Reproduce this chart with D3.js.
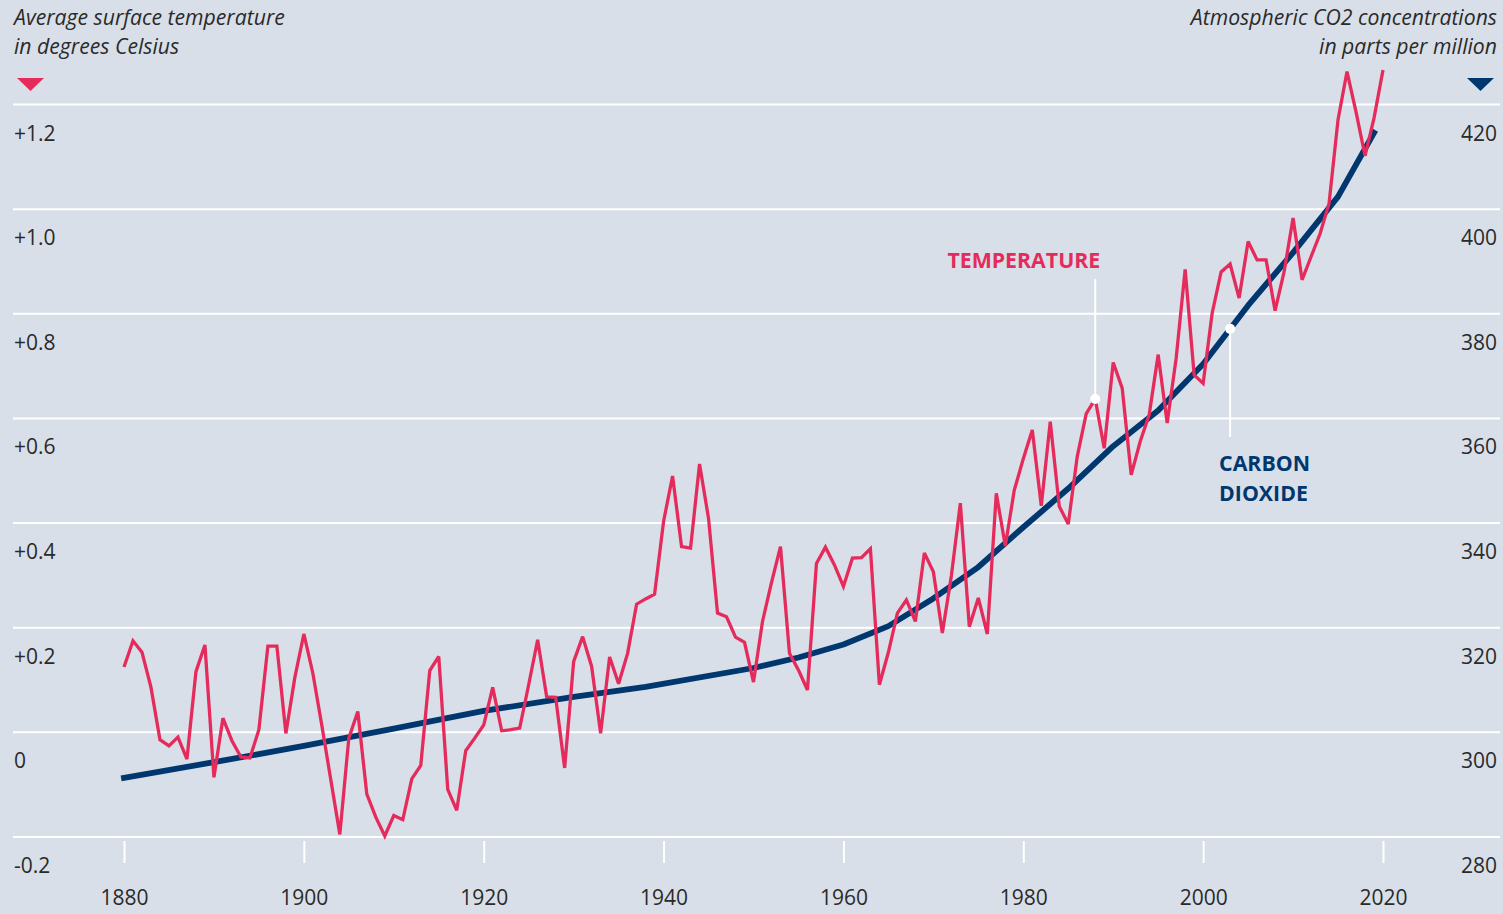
<!DOCTYPE html>
<html>
<head>
<meta charset="utf-8">
<script src="https://cdn.jsdelivr.net/npm/d3@7"></script>
<style>
  html, body { margin: 0; padding: 0; background: #d9dfe8; }
  svg { display: block; font-family: "Open Sans", "Noto Sans", sans-serif; }
</style>
</head>
<body>
<svg id="chart" width="1503" height="914"></svg>
<script>
// ---------- DATA ----------
const tempYears = [
  1880,1881,1882,1883,1884,1885,1886,1887,1888,1889,
  1890,1891,1892,1893,1894,1895,1896,1897,1898,1899,
  1900,1901,1902,1903,1904,1905,1906,1907,1908,1909,
  1910,1911,1912,1913,1914,1915,1916,1917,1918,1919,
  1920,1921,1922,1923,1924,1925,1926,1927,1928,1929,
  1930,1931,1932,1933,1934,1935,1936,1937,1938,1939,
  1940,1941,1942,1943,1944,1945,1946,1947,1948,1949,
  1950,1951,1952,1953,1954,1955,1956,1957,1958,1959,
  1960,1961,1962,1963,1964,1965,1966,1967,1968,1969,
  1970,1971,1972,1973,1974,1975,1976,1977,1978,1979,
  1980,1981,1982,1983,1984,1985,1986,1987,1988,1989,
  1990,1991,1992,1993,1994,1995,1996,1997,1998,1999,
  2000,2001,2002,2003,2004,2005,2006,2007,2008,2009,
  2010,2011,2012,2013,2014,2015,2016,2017,2018,2019,
  2020
];
const tempValues = [
  0.125,0.175,0.153,0.086,-0.014,-0.026,-0.009,-0.051,0.116,0.167,
  -0.086,0.027,-0.016,-0.047,-0.049,0.005,0.165,0.165,-0.002,0.105,
  0.188,0.113,0.013,-0.091,-0.195,-0.011,0.040,-0.118,-0.162,-0.198,
  -0.159,-0.167,-0.089,-0.063,0.118,0.145,-0.109,-0.149,-0.035,-0.011,
  0.014,0.086,0.003,0.005,0.008,0.091,0.177,0.068,0.067,-0.068,
  0.135,0.183,0.126,-0.002,0.144,0.093,0.151,0.245,0.255,0.264,
  0.403,0.490,0.355,0.352,0.513,0.409,0.228,0.221,0.182,0.172,
  0.096,0.212,0.286,0.355,0.151,0.119,0.081,0.323,0.354,0.320,
  0.279,0.333,0.334,0.351,0.091,0.153,0.228,0.253,0.212,0.343,
  0.307,0.190,0.299,0.438,0.202,0.257,0.188,0.457,0.356,0.463,
  0.523,0.578,0.433,0.594,0.432,0.398,0.527,0.609,0.637,0.543,
  0.707,0.658,0.492,0.556,0.607,0.722,0.591,0.715,0.885,0.683,
  0.667,0.801,0.880,0.895,0.830,0.938,0.903,0.903,0.806,0.880,
  0.983,0.865,0.909,0.953,1.011,1.171,1.263,1.186,1.102,1.174,
  1.266
];
const co2Years  = [1880,1890,1900,1910,1920,1930,1938,1950,1955,1960,1965,1970,1975,1980,1985,1990,1995,2000,2005,2010,2015,2019];
const co2Values = [291.3,294.3,297.4,300.7,304.1,306.8,308.7,312.3,314.3,316.8,320.3,325.6,331.6,339.2,346.6,354.7,361.5,370.4,381.6,391.7,402.4,414.6];

const tempTicks  = [-0.2, 0, 0.2, 0.4, 0.6, 0.8, 1.0, 1.2];
const tempLabels = ["-0.2", "0", "+0.2", "+0.4", "+0.6", "+0.8", "+1.0", "+1.2"];
const co2Ticks   = [280, 300, 320, 340, 360, 380, 400, 420];
const yearTicks  = [1880, 1900, 1920, 1940, 1960, 1980, 2000, 2020];

const leftTitle  = ["Average surface temperature", "in degrees Celsius"];
const rightTitle = ["Atmospheric CO2 concentrations", "in parts per million"];
const tempLabel  = "TEMPERATURE";
const co2Label   = ["CARBON", "DIOXIDE"];
const tempCalloutYear = 1988;
const co2CalloutYear  = 2003;

// ---------- STYLE ----------
const COL_TEMP = "#e52b5c";
const COL_CO2  = "#00376f";
const COL_TEXT = "#2a2a2a";
const FS = 21;

const svg = d3.select("#chart");

const x  = d3.scaleLinear().domain([1880, 2020]).range([124, 1383]);
const yT = d3.scaleLinear().domain([-0.2, 1.2]).range([837, 104.5]);
const yC = d3.scaleLinear().domain([280, 420]).range([837, 104.5]);

// gridlines
svg.append("g").selectAll("line").data(tempTicks).join("line")
  .attr("x1", 13).attr("x2", 1500)
  .attr("y1", d => yT(d)).attr("y2", d => yT(d))
  .attr("stroke", "#ffffff").attr("stroke-width", 2);

// left labels (below gridline)
svg.append("g").selectAll("text").data(tempTicks).join("text")
  .attr("x", 14).attr("y", d => yT(d) + 36)
  .attr("font-size", FS).attr("fill", COL_TEXT)
  .text((d, i) => tempLabels[i]);

// right labels
svg.append("g").selectAll("text").data(co2Ticks).join("text")
  .attr("x", 1497).attr("y", d => yC(d) + 36)
  .attr("text-anchor", "end")
  .attr("font-size", FS).attr("fill", COL_TEXT)
  .text(d => d);

// x axis
const xAxis = svg.append("g")
  .attr("transform", "translate(0,841)")
  .call(d3.axisBottom(x).tickValues(yearTicks).tickSize(22).tickPadding(27).tickFormat(d3.format("d")));
xAxis.select(".domain").remove();
xAxis.selectAll(".tick line").attr("stroke", "#ffffff").attr("stroke-width", 2);
xAxis.selectAll(".tick text").attr("fill", COL_TEXT).attr("font-size", FS)
  .attr("font-family", "'Open Sans', 'Noto Sans', sans-serif");

// titles
svg.append("g").selectAll("text").data(leftTitle).join("text")
  .attr("x", 14).attr("y", (d, i) => 25 + i * 29)
  .attr("font-size", 21.2).attr("font-style", "italic").attr("fill", COL_TEXT)
  .text(d => d);
svg.append("g").selectAll("text").data(rightTitle).join("text")
  .attr("x", 1497).attr("y", (d, i) => 25 + i * 29)
  .attr("text-anchor", "end")
  .attr("font-size", 21.2).attr("font-style", "italic").attr("fill", COL_TEXT)
  .text(d => d);

// triangles
svg.append("path").attr("d", "M17,78 L44,78 L30.5,91 Z").attr("fill", COL_TEMP);
svg.append("path").attr("d", "M1467,78 L1494,78 L1480.5,91 Z").attr("fill", COL_CO2);

// CO2 line
const co2Data = co2Years.map((yr, i) => ({ yr, v: co2Values[i] }));
svg.append("path").datum(co2Data)
  .attr("fill", "none").attr("stroke", COL_CO2).attr("stroke-width", 5.8)
  .attr("stroke-linejoin", "round").attr("stroke-linecap", "square")
  .attr("d", d3.line().x(d => x(d.yr)).y(d => yC(d.v)));

// Temperature line
const tempData = tempYears.map((yr, i) => ({ yr, v: tempValues[i] }));
svg.append("path").datum(tempData)
  .attr("fill", "none").attr("stroke", COL_TEMP).attr("stroke-width", 3.3)
  .attr("stroke-linejoin", "miter").attr("stroke-miterlimit", 3)
  .attr("d", d3.line().x(d => x(d.yr)).y(d => yT(d.v)));

// Temperature callout
const tIdx = tempYears.indexOf(tempCalloutYear);
const tx = x(tempCalloutYear), ty = yT(tempValues[tIdx]);
svg.append("line").attr("x1", tx).attr("x2", tx).attr("y1", 279).attr("y2", ty)
  .attr("stroke", "#ffffff").attr("stroke-width", 2);
svg.append("circle").attr("cx", tx).attr("cy", ty).attr("r", 5).attr("fill", "#ffffff");
svg.append("text").attr("x", tx + 5).attr("y", 268).attr("text-anchor", "end")
  .attr("font-size", 21.3).attr("font-weight", 700).attr("fill", COL_TEMP)
  .text(tempLabel);

// CO2 callout
const co2Interp = d3.scaleLinear().domain(co2Years).range(co2Values);
const cx = x(co2CalloutYear), cy = yC(co2Interp(co2CalloutYear));
svg.append("line").attr("x1", cx).attr("x2", cx).attr("y1", cy).attr("y2", 437)
  .attr("stroke", "#ffffff").attr("stroke-width", 2);
svg.append("circle").attr("cx", cx).attr("cy", cy).attr("r", 5).attr("fill", "#ffffff");
svg.append("g").selectAll("text").data(co2Label).join("text")
  .attr("x", cx - 11).attr("y", (d, i) => 471 + i * 30)
  .attr("font-size", 21.3).attr("font-weight", 700).attr("fill", COL_CO2)
  .text(d => d);
</script>
</body>
</html>
